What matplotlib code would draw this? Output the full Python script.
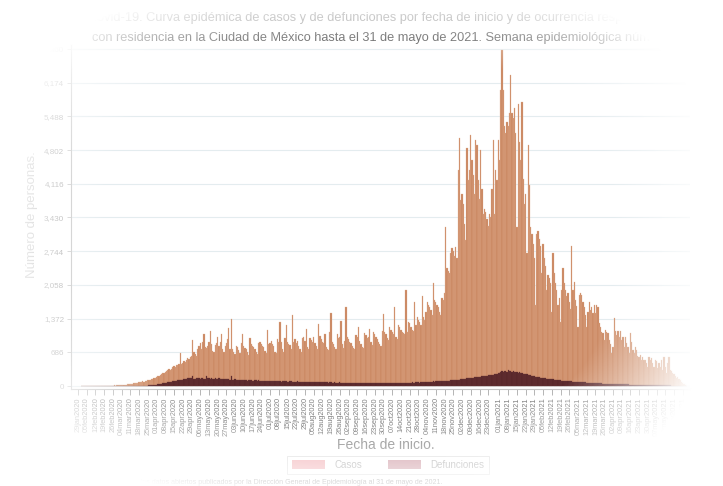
import numpy as np
import pandas as pd
import matplotlib
matplotlib.use('Agg')
import matplotlib.pyplot as plt
import matplotlib.dates as mdates
from matplotlib.patches import Patch

plt.rcParams['font.family'] = ['Liberation Sans', 'DejaVu Sans']

# ---------------- data (daily counts) ----------------
casos_feb20 = [0,0,0,0,0,0,0,0,0,0,0,0,0,0,0,0,3,0,5,2,4,6,3,8,5,9,12,10,15]
casos_mar20 = [14,18,16,22,20,25,28,30,35,33,40,45,48,55,52,60,68,75,80,85,95,90,105,110,120,118,130,140,150,160,170]
casos_abr20 = [180,200,210,230,250,270,260,290,310,330,340,320,350,380,400,390,420,430,450,670,440,470,500,480,520,560,540,600,620,930]
casos_may20 = [700,650,620,760,820,880,760,900,1060,800,780,820,900,1120,860,720,700,840,880,1000,820,900,1050,760,700,820,880,950,1180,760,1370]
casos_jun20 = [760,700,650,820,800,740,680,880,1050,820,780,760,700,640,970,860,820,800,760,700,650,880,900,860,820,800,720,680,1130,860]
casos_jul20 = [880,920,860,820,700,680,960,900,1300,900,760,700,980,1235,900,860,840,760,1450,900,950,880,920,820,760,700,980,1000,920,1165,790]
casos_ago20 = [760,980,940,900,1000,870,820,760,1265,1020,960,900,880,1050,800,760,740,1100,1480,900,860,800,760,1050,980,1000,1333,850,780,920,1610]
casos_sep20 = [1000,960,900,880,820,780,760,1040,1000,1200,920,860,800,780,1080,1040,980,1000,1165,900,840,1100,1060,1000,960,900,860,820,1120,1465]
casos_oct20 = [1100,1050,980,940,1200,1150,1100,1060,1600,1000,950,1250,1200,1150,1100,1080,1050,1950,1100,1300,1280,1200,1150,1120,1700,1250,1400,1350,1300,1250,1830]
casos_nov20 = [1400,1350,1500,1700,1650,1600,1550,1450,2100,1750,1700,1650,1600,1500,1450,1800,1750,1900,3240,2400,2350,2300,2700,2800,2750,2650,2830,2600,4400,5050]
casos_dic20 = [3790,3900,3700,3300,2970,4850,4200,4400,5110,4600,4300,3900,5000,4900,4200,3800,4800,4000,3500,3600,3550,3400,3250,3500,3450,4000,5000,3500,4400,4200,5000]
casos_ene21 = [4600,6030,6840,6030,5300,5150,5380,5300,5560,6330,5560,5450,5650,5150,3240,5750,4970,4600,5790,4210,3700,3900,2700,4900,4100,3240,3100,2900,2600,1650,3100]
casos_feb21 = [3150,3000,2850,2300,2900,2600,2450,1950,2250,2200,2100,1500,2700,2300,2100,1950,1650,1800,1300,1950,2400,2100,1950,1830,1900,1700,1560,2850]
casos_mar21 = [1950,2120,1750,1630,1210,1850,1900,1850,1700,1615,1450,1210,1500,1715,1550,1615,1480,1650,1480,1650,1600,1280,1210,1100,1070,940,1140,1100,1070,940,850]
casos_abr21 = [670,800,1380,1110,1040,1110,1000,1110,940,1000,800,1000,870,800,670,1070,900,730,670,800,730,620,600,630,530,600,520,530,460,390]
casos_may21 = [600,530,560,460,390,530,500,360,460,390,530,330,600,390,260,460,600,330,300,260,240,200,160,180,140,120,90,60,40,20,10]

def_feb20 = [0,0,0,0,0,0,0,0,0,0,0,0,0,0,0,0,0,0,0,0,0,0,0,0,0,0,0,0,0]
def_mar20 = [0,0,0,0,0,0,0,0,0,0,0,0,0,0,0,1,1,2,2,3,3,5,6,8,9,12,14,18,20,24,28]
def_abr20 = [30,36,42,40,48,55,58,65,70,72,80,78,90,94,100,98,110,118,115,125,130,128,140,150,145,158,165,160,172,200]
def_may20 = [150,140,160,155,165,150,170,160,145,150,210,165,155,150,160,145,150,155,140,150,160,145,140,135,150,140,135,150,140,130,200]
def_jun20 = [130,125,135,120,125,115,130,125,120,118,125,115,110,120,125,115,110,108,120,115,112,118,110,105,112,108,100,110,105,100]
def_jul20 = [100,105,98,95,92,100,105,98,95,90,92,98,100,95,90,88,92,95,90,88,85,90,92,88,85,82,88,90,86,84,80]
def_ago20 = [82,85,80,78,82,80,76,74,78,80,76,72,75,78,74,72,70,75,72,70,68,72,70,68,70,72,68,66,70,68,65]
def_sep20 = [68,65,62,66,64,60,62,65,63,60,58,62,64,60,62,58,60,62,60,58,62,60,58,60,62,58,60,62,60,58]
def_oct20 = [60,62,65,63,60,62,64,66,62,60,64,66,68,65,62,66,68,70,66,64,68,70,72,70,68,72,74,72,70,74,76]
def_nov20 = [78,80,82,80,85,88,86,90,92,88,92,95,98,95,100,102,98,105,108,110,106,112,115,118,114,120,125,122,128,132]
def_dic20 = [135,140,145,150,148,155,160,158,165,170,168,175,180,178,185,190,188,195,200,205,210,208,215,220,225,230,228,235,240,250,260]
def_ene21 = [265,280,300,290,310,305,295,320,300,310,290,300,285,295,280,270,275,260,265,250,245,240,235,230,220,215,210,200,195,190,185]
def_feb21 = [180,178,170,168,165,160,155,150,148,145,140,138,135,130,128,125,120,118,115,112,110,108,105,102,100,98,95,92]
def_mar21 = [90,88,86,84,82,80,78,76,75,74,72,70,68,66,65,64,62,60,58,57,56,55,54,52,50,49,48,46,45,44,42]
def_abr21 = [41,40,39,38,38,37,36,35,35,34,33,32,32,31,30,30,29,28,28,27,27,26,26,25,25,24,24,23,22,22]
def_may21 = [22,21,20,20,19,18,18,17,16,16,15,15,14,13,13,12,12,11,10,10,9,8,8,7,6,5,5,4,3,2,1]

inicio_mes = ['2020-02-01','2020-03-01','2020-04-01','2020-05-01','2020-06-01','2020-07-01',
              '2020-08-01','2020-09-01','2020-10-01','2020-11-01','2020-12-01','2021-01-01',
              '2021-02-01','2021-03-01','2021-04-01','2021-05-01']
casos_mes = [casos_feb20, casos_mar20, casos_abr20, casos_may20, casos_jun20, casos_jul20,
             casos_ago20, casos_sep20, casos_oct20, casos_nov20, casos_dic20, casos_ene21,
             casos_feb21, casos_mar21, casos_abr21, casos_may21]
def_mes = [def_feb20, def_mar20, def_abr20, def_may20, def_jun20, def_jul20,
           def_ago20, def_sep20, def_oct20, def_nov20, def_dic20, def_ene21,
           def_feb21, def_mar21, def_abr21, def_may21]

y_ticks = [0, 686, 1372, 2058, 2744, 3430, 4116, 4802, 5488, 6174, 6860]

x_tick_labels = ['29jan2020','05feb2020','12feb2020','19feb2020','26feb2020','04mar2020','11mar2020',
    '18mar2020','25mar2020','01apr2020','08apr2020','15apr2020','22apr2020','29apr2020','06may2020',
    '13may2020','20may2020','27may2020','03jun2020','10jun2020','17jun2020','24jun2020','01jul2020',
    '08jul2020','15jul2020','22jul2020','29jul2020','05aug2020','12aug2020','19aug2020','26aug2020',
    '02sep2020','09sep2020','16sep2020','23sep2020','30sep2020','07oct2020','14oct2020','21oct2020',
    '28oct2020','04nov2020','11nov2020','18nov2020','25nov2020','02dec2020','09dec2020','16dec2020',
    '23dec2020','01jan2021','08jan2021','15jan2021','22jan2021','29jan2021','05feb2021','12feb2021',
    '19feb2021','26feb2021','05mar2021','12mar2021','19mar2021','26mar2021','02apr2021','09apr2021',
    '16apr2021','23apr2021','30apr2021','07may2021','14may2021','21may2021','28may2021']

# ---------------- assemble ----------------
fechas, casos, defunciones = [], [], []
for ini, c, d in zip(inicio_mes, casos_mes, def_mes):
    fechas.extend(pd.date_range(ini, periods=len(c), freq='D'))
    casos.extend(c)
    defunciones.extend(d)
xnum = mdates.date2num(pd.DatetimeIndex(fechas).to_pydatetime())

W, H = 723, 486
fig = plt.figure(figsize=(W / 100, H / 100), dpi=100)
fig.patch.set_facecolor('white')
ax = fig.add_axes([71 / W, 1 - 389 / H, (690 - 71) / W, (389 - 45) / H])

ax.bar(xnum, casos, width=1.0, color='#c9865f', edgecolor='#e2b093', linewidth=0.2, zorder=2)
ax.bar(xnum, defunciones, width=1.0, color='#57272a', edgecolor='#6a3537', linewidth=0.2, zorder=3)

x0 = mdates.date2num(pd.Timestamp('2020-01-29').to_pydatetime())
ax.set_xlim(x0 - 5.6, x0 + 490.8)
ax.set_ylim(-61, 6941)

tick_dates = pd.to_datetime(x_tick_labels, format='%d%b%Y')
ax.set_xticks(mdates.date2num(tick_dates.to_pydatetime()))
ax.set_xticklabels(x_tick_labels, rotation=90)
ax.set_yticks(y_ticks)
ax.set_yticklabels([f'{v:,}' for v in y_ticks])

ax.yaxis.grid(True, color='#e4ecef', linewidth=0.8)
ax.set_axisbelow(True)
for s in ['top', 'right']:
    ax.spines[s].set_visible(False)
for s in ['left', 'bottom']:
    ax.spines[s].set_color('#c4c4c4')
    ax.spines[s].set_linewidth(0.8)
ax.tick_params(axis='x', length=4, width=0.6, color='#a8a8a8', labelsize=5.3,
               labelcolor='#808080', pad=2)
ax.tick_params(axis='y', length=3, width=0.6, color='#c0c0c0', labelsize=5.8,
               labelcolor='#a0a0a0', pad=2)

# titles & labels
fig.text(88 / W, 1 - 18 / H,
         'Covid-19. Curva epidémica de casos y de defunciones por fecha de inicio y de ocurrencia respectivamente,',
         fontsize=9.2, color='#8c8c8c', ha='left', va='center')
fig.text(92 / W, 1 - 38 / H,
         'con residencia en la Ciudad de México hasta el 31 de mayo de 2021. Semana epidemiológica número 22.',
         fontsize=9.2, color='#4a4a4a', ha='left', va='center')
fig.text(32 / W, 1 - 215 / H, 'Número de personas.', rotation=90, fontsize=9.5,
         color='#b0b0b0', ha='center', va='center')
fig.text(386 / W, 1 - 445 / H, 'Fecha de inicio.', fontsize=10, color='#8a8a8a',
         ha='center', va='center')
fig.text(73 / W, 1 - 482 / H,
         'Elaborado a partir de los datos abiertos publicados por la Dirección General de Epidemiología al 31 de mayo de 2021.',
         fontsize=5, color='#707070', ha='left', va='center')

handles = [Patch(facecolor='#f2aeb3', edgecolor='none', label='Casos'),
           Patch(facecolor='#cd96a0', edgecolor='none', label='Defunciones')]
leg = fig.legend(handles=handles, loc='center', bbox_to_anchor=(388 / W, 1 - 465 / H),
                 ncol=2, fontsize=7, frameon=True, edgecolor='#d0d0d0', fancybox=False,
                 handlelength=3.4, handleheight=1.1, columnspacing=2.6, borderpad=0.45,
                 handletextpad=1.0)
for t in leg.get_texts():
    t.set_color('#a8a8a8')
leg.get_frame().set_linewidth(0.6)

# white vignette overlay (rounded, fades the edges like the reference)
yy, xx = np.mgrid[0:H, 0:W].astype(float)
cx, cy = 371.0, 241.5
ex = np.where(xx < cx, (cx - xx) / 378.0, (xx - cx) / 342.0)
ey = np.abs(yy - cy) / 259.5
r = (ex ** 3 + ey ** 3) ** (1 / 3)
alpha = np.clip((r - 0.70) / 0.30, 0, 1)
rgba = np.ones((H, W, 4))
rgba[..., 3] = alpha
ov = fig.add_axes([0, 0, 1, 1], zorder=50)
ov.imshow(rgba, extent=[0, W, H, 0], aspect='auto', interpolation='bilinear')
ov.set_xlim(0, W)
ov.set_ylim(H, 0)
ov.axis('off')

fig.savefig('out.png', dpi=100)
